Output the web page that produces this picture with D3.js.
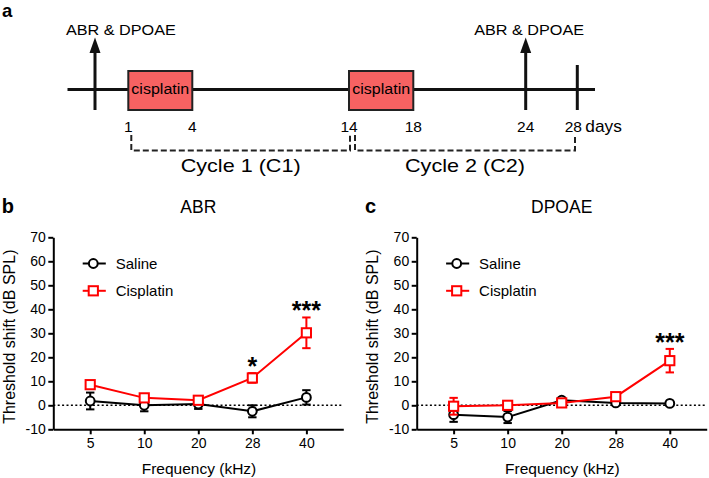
<!DOCTYPE html>
<html><head><meta charset="utf-8">
<script src="https://cdn.jsdelivr.net/npm/d3@7"></script>
<style>
html,body{margin:0;padding:0;background:#fff;}
svg{display:block;font-family:"Liberation Sans",Arial,Helvetica,sans-serif;}
</style></head>
<body>
<script>
// ---------- DATA ----------
const frequencies = ["5", "10", "20", "28", "40"];
const yTickValues = [-10, 0, 10, 20, 30, 40, 50, 60, 70];

const abrSalineMean = [1.8, 0.0, 0.5, -2.5, 3.3];
const abrSalineErr  = [3.5, 2.5, 2.0, 2.5, 3.0];
const abrCisMean    = [8.6, 3.1, 2.1, 11.4, 30.2];
const abrCisErr     = [1.5, 1.0, 1.0, 2.0, 6.4];
const abrSig        = ["", "", "", "*", "***"];

const dpSalineMean  = [-3.9, -4.9, 2.1, 1.0, 0.8];
const dpSalineErr   = [3.0, 2.5, 1.0, 0.8, 0.5];
const dpCisMean     = [-0.4, 0.0, 1.0, 3.6, 18.6];
const dpCisErr      = [3.5, 0.8, 0.8, 1.0, 4.9];
const dpSig         = ["", "", "", "", "***"];

const seriesNames = ["Saline", "Cisplatin"];

// timeline
const dayLabels = [1, 4, 14, 18, 24, 28];
const cisplatinPeriods = [[1, 4], [14, 18]];
const testDays = [0, 24];
const endDay = 28;
const cycleNames = ["Cycle 1 (C1)", "Cycle 2 (C2)"];
const cycleBounds = [[1, 14], [14, 28]];

// ---------- DRAW ----------
const W = 709, H = 478;
const svg = d3.select("body").append("svg").attr("width", W).attr("height", H);
const FONT = '"Liberation Sans",Arial,Helvetica,sans-serif';

function txt(g, x, y, s, size, anchor, opts = {}) {
  return g.append("text")
    .attr("transform", `translate(${x},${y}) scale(${opts.sx || 1},1)${opts.rot ? ` rotate(${opts.rot})` : ""}`)
    .attr("text-anchor", anchor || "start")
    .attr("font-size", size)
    .attr("font-family", FONT)
    .attr("font-weight", opts.bold ? "bold" : "normal")
    .attr("fill", opts.fill || "#000")
    .text(s);
}

// ---- Panel a (schematic timeline) ----
const ga = svg.append("g");
txt(ga, 2, 16.5, "a", 18.5, "start", {bold: true});
// schematic (non-uniform) day axis
const dayX = d3.scaleLinear()
  .domain([-1.7, 0, 1, 4, 14, 18, 24, 28, 29.5])
  .range([67.5, 95, 128.3, 192.3, 349, 413.3, 525.7, 577.3, 595]);
const lineY = 89.5;
ga.append("line").attr("x1", dayX(-1.7)).attr("x2", dayX(29.5))
  .attr("y1", lineY).attr("y2", lineY).attr("stroke", "#111").attr("stroke-width", 3);

cisplatinPeriods.forEach(p => {
  ga.append("rect").attr("x", dayX(p[0])).attr("y", 71)
    .attr("width", dayX(p[1]) - dayX(p[0])).attr("height", 39)
    .attr("fill", "#f76262").attr("stroke", "#222").attr("stroke-width", 2);
  txt(ga, (dayX(p[0]) + dayX(p[1])) / 2, 94, "cisplatin", 15, "middle", {sx: 1.07});
});

testDays.forEach((d, i) => {
  const x = dayX(d);
  ga.append("line").attr("x1", x).attr("x2", x).attr("y1", 110).attr("y2", 52)
    .attr("stroke", "#111").attr("stroke-width", 3);
  ga.append("path").attr("d", `M${x - 5.5},53 L${x + 5.5},53 L${x},37.5 Z`).attr("fill", "#111");
  txt(ga, i === 0 ? x - 29 : x - 51.5, 35, "ABR & DPOAE", 15, "start", {sx: 1.08});
});
ga.append("line").attr("x1", dayX(endDay)).attr("x2", dayX(endDay)).attr("y1", 65).attr("y2", 110)
  .attr("stroke", "#111").attr("stroke-width", 3);

dayLabels.forEach(d => {
  txt(ga, dayX(d) - (d === endDay ? 4 : 0), 131.5, String(d), 15.5, "middle");
});
txt(ga, dayX(endDay) + 8, 131.5, "days", 16, "start", {sx: 1.08});

cycleBounds.forEach((b, i) => {
  const xs = dayX(b[0]) + (i === 0 ? 3 : 6);
  const xe = dayX(b[1]) + (i === 0 ? 1 : -2.3);
  ga.append("path").attr("d", `M${xs},135 L${xs},150.5 L${xe},150.5 L${xe},135`)
    .attr("fill", "none").attr("stroke", "#222").attr("stroke-width", 2)
    .attr("stroke-dasharray", "6,3");
  txt(ga, (xs + xe) / 2, 172, cycleNames[i], 18, "middle", {sx: 1.2});
});

// ---- Panels b & c ----
function drawPanel(ox, letter, title, salM, salE, cisM, cisE, sig) {
  const g = svg.append("g");
  const x0 = ox, x1 = ox + 290;
  const y = d3.scaleLinear().domain([-10, 70]).range([429.3, 237.3]);
  const x = d3.scalePoint().domain(frequencies).range([x0, x1]).padding(0.683);

  const ya = g.append("g").attr("transform", `translate(${x0},0)`)
    .call(d3.axisLeft(y).tickValues(yTickValues).tickFormat(d => String(d))
      .tickSize(5).tickSizeOuter(0).tickPadding(2.5));
  const xa = g.append("g").attr("transform", `translate(0,${y(-10)})`)
    .call(d3.axisBottom(x).tickSize(5).tickSizeOuter(0).tickPadding(3.5));
  [ya, xa].forEach(a => {
    a.select(".domain").attr("stroke", "#000").attr("stroke-width", 2);
    a.selectAll(".tick line").attr("stroke", "#000").attr("stroke-width", 2);
    a.selectAll("text").attr("font-size", 14).attr("font-family", FONT).attr("fill", "#000");
  });

  // zero reference
  g.append("line").attr("x1", x0).attr("x2", x1).attr("y1", y(0)).attr("y2", y(0))
    .attr("stroke", "#000").attr("stroke-width", 1.6).attr("stroke-dasharray", "2,2.4");

  const series = [
    {name: seriesNames[0], m: salM, e: salE, color: "#000", shape: "circle"},
    {name: seriesNames[1], m: cisM, e: cisE, color: "#ff0000", shape: "square"}
  ];
  const line = d3.line().x((d, i) => x(frequencies[i])).y(d => y(d));

  function marker(sel, cx, cy, s) {
    if (s.shape === "circle") {
      sel.append("circle").attr("cx", cx).attr("cy", cy).attr("r", 4.4)
        .attr("fill", "#fff").attr("stroke", s.color).attr("stroke-width", 2);
    } else {
      sel.append("rect").attr("x", cx - 4.6).attr("y", cy - 4.6).attr("width", 9.2).attr("height", 9.2)
        .attr("fill", "#fff").attr("stroke", s.color).attr("stroke-width", 2);
    }
  }

  series.forEach(s => {
    const sg = g.append("g");
    sg.append("path").datum(s.m).attr("d", line).attr("fill", "none")
      .attr("stroke", s.color).attr("stroke-width", 2);
    s.m.forEach((v, i) => {
      const cx = x(frequencies[i]);
      const yt = y(v + s.e[i]), yb = y(v - s.e[i]);
      sg.append("line").attr("x1", cx).attr("x2", cx).attr("y1", yt).attr("y2", yb)
        .attr("stroke", s.color).attr("stroke-width", 2);
      [yt, yb].forEach(yy => sg.append("line").attr("x1", cx - 4.2).attr("x2", cx + 4.2)
        .attr("y1", yy).attr("y2", yy).attr("stroke", s.color).attr("stroke-width", 2));
    });
    s.m.forEach((v, i) => marker(sg, x(frequencies[i]), y(v), s));
  });

  // significance
  sig.forEach((s, i) => {
    if (!s) return;
    txt(g, x(frequencies[i]), y(cisM[i] + cisE[i]) + 2, s, 25, "middle", {bold: true});
  });

  // legend
  series.forEach((s, k) => {
    const ly = 263.5 + k * 27.3;
    g.append("line").attr("x1", ox + 29.4).attr("x2", ox + 52.5).attr("y1", ly).attr("y2", ly)
      .attr("stroke", s.color).attr("stroke-width", 2);
    marker(g, ox + 40, ly, s);
    txt(g, ox + 62.4, ly + 5.4, s.name, 15, "start");
  });

  // labels
  txt(g, ox + 145, 213, title, 17.5, "middle");
  txt(g, ox - 51.6, 213.3, letter, 20, "start", {bold: true});
  txt(g, ox - 38.3, 336.7, "Threshold shift (dB SPL)", 16, "middle", {rot: -90});
  txt(g, ox + 145.7, 473.5, "Frequency (kHz)", 15.5, "middle");
}

drawPanel(53.3, "b", "ABR", abrSalineMean, abrSalineErr, abrCisMean, abrCisErr, abrSig);
drawPanel(416.7, "c", "DPOAE", dpSalineMean, dpSalineErr, dpCisMean, dpCisErr, dpSig);
</script>
</body></html>
